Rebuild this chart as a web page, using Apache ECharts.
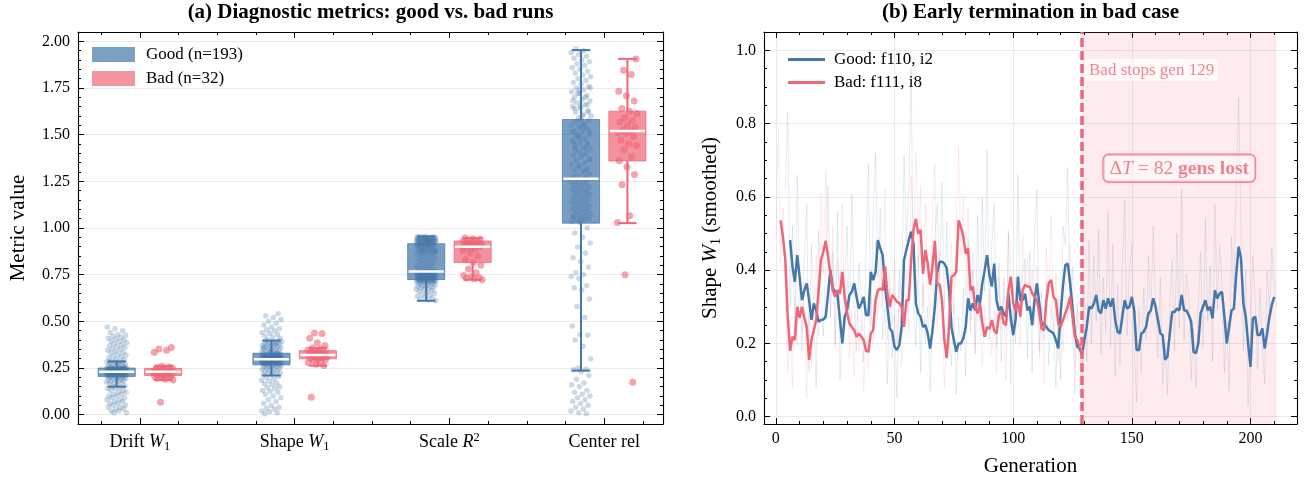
<!DOCTYPE html>
<html>
<head>
<meta charset="utf-8">
<script src="https://cdn.jsdelivr.net/npm/echarts@6.0.0/dist/echarts.min.js"></script>
<style>
  html, body { margin: 0; padding: 0; background: #ffffff; }
  #chart { width: 1309px; height: 482px; }
</style>
</head>
<body>
<div id="chart"></div>
<script>
// ---------------- Panel (a): diagnostic metrics ----------------
const categories = ['Drift {it|W}{sub|1}', 'Shape {it|W}{sub|1}', 'Scale {it|R}{sup|2}', 'Center rel'];

// Box statistics per metric: [lower whisker, Q1, median, Q3, upper whisker]
const goodStats = [
  [0.15, 0.205, 0.23, 0.25, 0.285],
  [0.21, 0.267, 0.297, 0.329, 0.397],
  [0.61, 0.724, 0.767, 0.916, 0.955],
  [0.236, 1.026, 1.264, 1.581, 1.953]
];
const badStats = [
  [0.186, 0.21, 0.23, 0.248, 0.26],
  [0.263, 0.299, 0.32, 0.343, 0.357],
  [0.723, 0.815, 0.90, 0.93, 0.946],
  [1.026, 1.359, 1.52, 1.626, 1.906]
];

// Per-run metric values, good runs
const goodDrift = [
  0.01,0.01,0.02,0.02,0.03,0.03,0.04,0.04,0.05,0.05,0.06,0.06,0.07,0.07,0.08,0.08,0.09,0.09,0.10,0.10,
  0.11,0.11,0.12,0.12,0.13,0.13,0.14,0.14,0.145,0.15,
  0.155,0.16,0.165,0.17,0.17,0.175,0.18,0.18,0.185,0.185,0.19,0.19,0.195,0.195,0.20,0.20,0.20,0.205,
  0.206,0.207,0.208,0.209,0.21,0.21,0.211,0.212,0.213,0.214,
  0.215,0.215,0.216,0.217,0.218,0.218,0.219,0.22,0.22,0.221,
  0.222,0.222,0.223,0.224,0.224,0.225,0.226,0.226,0.227,0.228,
  0.228,0.229,0.229,0.23,0.23,0.23,0.231,0.231,0.232,0.232,
  0.233,0.233,0.234,0.234,0.235,0.235,0.236,0.236,0.237,0.237,
  0.238,0.238,0.239,0.239,0.24,0.24,0.24,0.241,0.241,0.242,
  0.242,0.243,0.243,0.244,0.244,0.245,0.245,0.245,0.246,0.246,
  0.247,0.247,0.247,0.248,0.248,0.248,0.249,0.249,0.249,0.25,
  0.212,0.219,0.225,0.231,0.227,0.234,0.238,0.221,0.243,0.217,
  0.229,0.236,0.24,0.226,0.233,0.244,0.239,
  0.252,0.255,0.257,0.26,0.262,0.265,0.267,0.27,0.272,0.275,0.277,0.28,0.282,0.284,0.285,
  0.29,0.295,0.30,0.305,0.31,0.315,0.32,0.325,0.33,0.335,0.34,0.345,0.35,0.355,0.36,0.365,
  0.37,0.375,0.38,0.385,0.39,0.395,0.40,0.405,0.41,0.415,0.42,0.425,0.43,0.44,0.45,0.46,0.47
];
const goodShape = [
  0.005,0.01,0.015,0.02,0.03,0.035,0.04,0.05,0.06,0.07,0.08,0.09,0.10,0.11,0.12,0.125,0.13,0.14,
  0.145,0.15,0.16,0.165,0.17,0.18,0.185,0.19,0.20,0.205,
  0.212,0.215,0.218,0.222,0.225,0.228,0.232,0.235,0.238,0.242,0.245,0.248,0.25,0.253,0.255,0.258,
  0.26,0.262,0.264,0.266,
  0.268,0.269,0.27,0.271,0.272,0.273,0.274,0.275,0.276,0.277,
  0.278,0.279,0.28,0.281,0.282,0.283,0.284,0.285,0.286,0.287,
  0.288,0.289,0.29,0.291,0.292,0.293,0.294,0.295,0.296,0.297,
  0.297,0.298,0.299,0.30,0.30,0.301,0.302,0.303,0.304,0.305,
  0.306,0.307,0.308,0.309,0.31,0.311,0.312,0.313,0.314,0.315,
  0.316,0.317,0.318,0.319,0.32,0.321,0.322,0.323,0.324,0.325,
  0.326,0.327,0.328,0.329,0.29,0.295,0.30,0.305,0.31,0.285,
  0.28,0.275,0.315,0.32,0.293,0.298,0.302,0.308,0.287,0.291,
  0.296,0.299,0.303,0.306,0.311,0.283,0.279,0.318,0.274,0.294,
  0.297,0.301,0.289,0.304,0.312,0.296,0.30,
  0.332,0.335,0.337,0.34,0.342,0.345,0.347,0.35,0.352,0.355,0.357,0.36,0.362,0.365,0.367,0.37,
  0.372,0.375,0.377,0.38,0.382,0.385,0.387,0.39,0.392,0.395,0.396,0.338,0.358,0.378,
  0.40,0.41,0.415,0.42,0.43,0.435,0.44,0.45,0.455,0.46,0.47,0.48,0.49,0.50,0.51,0.52,0.53,0.54
];
const goodScale = [
  0.61,0.615,0.62,0.625,0.63,0.635,0.64,0.645,0.65,0.655,
  0.66,0.665,0.67,0.672,0.675,0.678,0.68,0.683,0.686,0.689,
  0.692,0.695,0.697,0.70,0.702,0.704,0.706,0.708,0.71,0.711,
  0.712,0.713,0.714,0.715,0.716,0.717,0.718,0.719,0.72,0.72,
  0.721,0.721,0.722,0.722,0.723,0.723,0.724,0.724,
  0.725,0.726,0.727,0.728,0.729,0.73,0.731,0.732,0.733,0.734,
  0.735,0.736,0.737,0.738,0.739,0.74,0.741,0.742,0.743,0.744,
  0.745,0.746,0.747,0.748,0.749,0.75,0.751,0.752,0.753,0.754,
  0.755,0.756,0.757,0.758,0.759,0.76,0.761,0.762,0.763,0.764,
  0.765,0.766,0.767,0.73,0.74,0.75,0.76,0.745,0.755,
  0.77,0.775,0.78,0.785,0.79,0.795,0.80,0.805,0.81,0.815,
  0.82,0.825,0.83,0.835,0.84,0.845,0.85,0.855,0.86,0.862,
  0.865,0.868,0.87,0.872,0.875,0.878,0.88,0.882,0.885,0.888,
  0.89,0.892,0.895,0.897,0.90,0.902,0.904,0.906,0.908,0.91,
  0.911,0.912,0.913,0.914,0.915,0.916,0.88,0.87,
  0.917,0.918,0.919,0.92,0.921,0.922,0.923,0.924,0.925,0.926,
  0.927,0.928,0.929,0.93,0.931,0.932,0.933,0.934,0.935,0.936,
  0.937,0.938,0.939,0.94,0.941,0.942,0.943,0.944,0.945,0.946,
  0.947,0.948,0.949,0.95,0.951,0.952,0.953,0.954,0.955,0.92,
  0.925,0.93,0.935,0.94,0.945,0.95,0.93,0.94
];
const goodCenter = [
  0.005,0.01,0.02,0.03,0.04,0.05,0.06,0.07,0.08,0.09,0.10,0.11,0.12,0.13,0.15,0.16,0.17,0.19,0.21,0.23,
  0.24,0.245,0.25,0.30,0.366,0.40,0.425,0.43,0.475,0.52,0.58,0.62,0.666,0.68,0.69,0.73,0.74,0.75,
  0.76,0.79,0.82,0.84,0.866,0.898,0.92,0.95,0.973,1.0,
  1.03,1.035,1.04,1.045,1.05,1.055,1.06,1.065,1.07,1.075,
  1.08,1.085,1.09,1.095,1.10,1.105,1.11,1.115,1.12,1.125,
  1.13,1.135,1.14,1.145,1.15,1.155,1.16,1.165,1.17,1.175,
  1.18,1.185,1.19,1.195,1.20,1.205,1.21,1.215,1.22,1.225,
  1.23,1.235,1.24,1.245,1.25,1.255,1.26,1.04,1.06,
  1.27,1.28,1.29,1.30,1.31,1.32,1.33,1.34,1.35,1.36,
  1.37,1.38,1.39,1.40,1.41,1.42,1.43,1.44,1.45,1.46,
  1.47,1.48,1.49,1.50,1.51,1.52,1.53,1.54,1.55,1.56,
  1.57,1.575,1.58,1.275,1.305,1.335,1.365,1.395,1.425,1.455,
  1.485,1.515,1.545,1.50,1.52,1.54,1.46,1.43,
  1.59,1.60,1.61,1.62,1.63,1.64,1.65,1.66,1.67,1.68,
  1.69,1.70,1.71,1.72,1.73,1.74,1.75,1.76,1.77,1.78,
  1.79,1.80,1.81,1.82,1.83,1.84,1.85,1.86,1.87,1.88,
  1.89,1.90,1.91,1.92,1.93,1.94,1.95,1.96,1.62,1.65,
  1.68,1.70,1.72,1.75,1.60,1.64,1.66,1.74
];

// Per-run metric values, bad runs
const badDrift = [
  0.066,0.186,0.19,0.195,0.20,0.203,0.205,0.208,0.21,0.213,0.216,0.219,0.222,0.225,0.228,0.23,
  0.232,0.235,0.238,0.241,0.244,0.246,0.248,0.25,0.253,0.256,0.26,0.334,0.345,0.352,0.36,0.22
];
const badShape = [
  0.093,0.263,0.27,0.278,0.285,0.29,0.295,0.299,0.302,0.305,0.308,0.31,0.313,0.316,0.318,0.32,
  0.322,0.325,0.328,0.33,0.333,0.336,0.34,0.343,0.347,0.352,0.357,0.37,0.385,0.41,0.435,0.438
];
const badScale = [
  0.723,0.728,0.732,0.735,0.74,0.745,0.76,0.78,0.80,0.815,0.83,0.85,0.865,0.88,0.89,0.895,
  0.90,0.902,0.905,0.908,0.91,0.913,0.916,0.92,0.923,0.926,0.93,0.933,0.936,0.94,0.943,0.946
];
const badCenter = [
  0.173,0.749,1.03,1.066,1.232,1.286,1.327,1.36,1.38,1.42,1.44,1.452,1.47,1.49,1.506,1.51,
  1.52,1.525,1.538,1.55,1.568,1.577,1.59,1.613,1.625,1.64,1.681,1.708,1.733,1.822,1.845,1.906
];

const goodValues = [goodDrift, goodShape, goodScale, goodCenter];
const badValues = [badDrift, badShape, badScale, badCenter];

// ---------------- Panel (b): early termination ----------------
const goodRunLabel = 'Good: f110, i2';
const badRunLabel = 'Bad: f111, i8';
const stopGen = 129;   // last generation of the bad run
const endGen = 211;    // last generation of the good run

const goodSmoothStart = 6;
const goodSmoothed = [
  0.482,0.409,0.368,0.441,0.382,0.318,0.345,0.364,0.318,0.264,0.309,0.29,0.259,0.264,0.265,0.273,
  0.336,0.40,0.35,0.341,0.332,0.264,0.20,0.273,0.29,0.332,0.341,0.364,0.327,0.295,0.309,0.327,
  0.277,0.277,0.395,0.373,0.395,0.482,0.459,0.441,0.355,0.30,0.241,0.232,0.191,0.182,0.195,0.245,
  0.427,0.455,0.482,0.505,0.473,0.309,0.282,0.273,0.245,0.25,0.227,0.186,0.236,0.30,0.395,0.423,
  0.423,0.418,0.405,0.345,0.245,0.209,0.177,0.20,0.20,0.214,0.245,0.323,0.29,0.309,0.29,0.332,
  0.309,0.364,0.40,0.441,0.386,0.355,0.418,0.318,0.29,0.30,0.282,0.273,0.336,0.268,0.223,0.264,
  0.382,0.318,0.318,0.336,0.29,0.30,0.25,0.318,0.364,0.309,0.25,0.255,0.245,0.236,0.232,0.227,
  0.209,0.186,0.282,0.359,0.414,0.418,0.364,0.30,0.227,0.191,0.186,0.168,0.209,0.245,0.30,0.295,
  0.309,0.332,0.29,0.282,0.318,0.295,0.323,0.30,0.323,0.264,0.232,0.227,0.273,0.318,0.295,0.30,
  0.327,0.29,0.182,0.182,0.227,0.232,0.245,0.282,0.29,0.323,0.30,0.264,0.227,0.223,0.155,0.164,
  0.227,0.286,0.286,0.295,0.29,0.332,0.29,0.29,0.277,0.259,0.177,0.173,0.20,0.282,0.30,0.318,
  0.29,0.30,0.268,0.345,0.323,0.336,0.341,0.273,0.20,0.245,0.29,0.295,0.39,0.464,0.432,0.309,
  0.273,0.20,0.136,0.268,0.273,0.223,0.223,0.241,0.186,0.227,0.273,0.305,0.327
];
const badSmoothStart = 2;
const badSmoothed = [
  0.536,0.49,0.427,0.27,0.18,0.218,0.209,0.30,0.27,0.30,0.27,0.245,0.155,0.21,0.236,0.264,
  0.345,0.427,0.45,0.48,0.436,0.39,0.345,0.327,0.345,0.336,0.395,0.327,0.282,0.255,0.245,0.236,
  0.218,0.227,0.218,0.209,0.18,0.177,0.227,0.236,0.318,0.345,0.35,0.345,0.41,0.336,0.30,0.332,
  0.323,0.314,0.31,0.30,0.245,0.318,0.318,0.427,0.51,0.54,0.50,0.51,0.39,0.455,0.418,0.36,
  0.41,0.48,0.364,0.36,0.318,0.21,0.16,0.245,0.382,0.386,0.395,0.536,0.518,0.49,0.445,0.46,
  0.345,0.355,0.30,0.282,0.31,0.255,0.218,0.245,0.24,0.264,0.236,0.227,0.277,0.29,0.255,0.25,
  0.345,0.382,0.31,0.29,0.314,0.273,0.345,0.36,0.355,0.355,0.336,0.327,0.318,0.282,0.24,0.236,
  0.318,0.364,0.373,0.327,0.318,0.255,0.245,0.264,0.282,0.30,0.327,0.273,0.218,0.209,0.19,0.18
];

// Unsmoothed per-generation values (drawn faintly behind the smoothed curves)
const goodRawStart = 4;
const goodRaw = [
  0.62,0.83,0.30,0.52,0.21,0.66,0.35,0.18,0.44,0.58,
  0.12,0.47,0.29,0.08,0.51,0.33,0.22,0.41,0.63,0.27,
  0.45,0.19,0.56,0.10,0.28,0.37,0.52,0.24,0.61,0.30,
  0.18,0.42,0.33,0.15,0.46,0.69,0.25,0.54,0.72,0.38,
  0.57,0.21,0.30,0.09,0.35,0.16,0.28,0.05,0.40,0.33,
  0.71,0.48,0.62,0.95,0.31,0.19,0.44,0.12,0.36,0.20,
  0.30,0.07,0.26,0.49,0.58,0.37,0.64,0.29,0.53,0.22,
  0.14,0.31,0.06,0.27,0.18,0.35,0.11,0.48,0.23,0.40,
  0.17,0.55,0.26,0.60,0.34,0.73,0.21,0.47,0.58,0.19,
  0.42,0.15,0.38,0.24,0.50,0.09,0.31,0.20,0.66,0.27,
  0.39,0.43,0.16,0.45,0.12,0.49,0.62,0.18,0.34,0.21,
  0.37,0.14,0.30,0.25,0.08,0.33,0.10,0.52,0.47,0.68,
  0.29,0.41,0.06,0.31,0.22,0.05,0.36,0.15,0.48,0.20,
  0.44,0.26,0.51,0.17,0.38,0.23,0.56,0.19,0.47,0.11,
  0.36,0.14,0.40,0.59,0.22,0.41,0.47,0.18,0.04,0.30,
  0.12,0.35,0.21,0.44,0.27,0.52,0.31,0.16,0.38,0.09,
  0.20,0.06,0.31,0.43,0.18,0.50,0.24,0.62,0.21,0.39,
  0.33,0.10,0.24,0.08,0.30,0.45,0.19,0.54,0.26,0.41,
  0.15,0.58,0.29,0.47,0.36,0.12,0.26,0.07,0.49,0.33,
  0.64,0.87,0.52,0.18,0.40,0.03,0.22,0.44,0.31,0.13,
  0.35,0.19,0.09,0.40,0.28,0.46,0.36,0.30
];
const badRawStart = 0;
const badRaw = [
  0.48,0.79,0.42,0.57,0.31,0.12,0.26,0.08,0.33,0.19,
  0.41,0.23,0.36,0.05,0.28,0.14,0.30,0.44,0.22,0.61,
  0.39,0.67,0.45,0.28,0.52,0.20,0.43,0.31,0.58,0.24,
  0.37,0.16,0.29,0.11,0.34,0.18,0.26,0.07,0.22,0.13,
  0.35,0.19,0.48,0.27,0.44,0.30,0.62,0.21,0.38,0.25,
  0.43,0.20,0.37,0.14,0.32,0.40,0.23,0.66,0.49,0.72,
  0.41,0.63,0.30,0.58,0.36,0.27,0.55,0.69,0.24,0.45,
  0.31,0.08,0.19,0.34,0.47,0.29,0.52,0.74,0.44,0.60,
  0.33,0.57,0.26,0.45,0.18,0.37,0.25,0.14,0.30,0.21,
  0.35,0.17,0.29,0.12,0.38,0.24,0.33,0.10,0.51,0.42,
  0.22,0.38,0.27,0.19,0.49,0.36,0.43,0.28,0.40,0.25,
  0.41,0.16,0.30,0.09,0.46,0.33,0.55,0.22,0.39,0.15,
  0.32,0.18,0.37,0.26,0.47,0.20,0.13,0.29,0.08,0.17
];

// ---------------- styling ----------------
const GOOD = '#4477AA';
const BAD = '#EE6677';
const GOOD_PATCH = '#7ca0c3';
const BAD_PATCH = '#f394a0';
const FONT = "'Liberation Serif', 'DejaVu Serif', 'Times New Roman', serif";
const GRID_LINE = '#e4e4e4';

const BOX_OFFSET = 0.15;   // horizontal shift of good/bad boxes from the category centre
const BOX_WIDTH = 0.24;
const SPREAD = 0.065;      // horizontal spread of the run dots

const goodName = 'Good (n=' + goodDrift.length + ')';
const badName = 'Bad (n=' + badDrift.length + ')';

function spreadAt(i) {
  const f = (i * 0.6180339887 + 0.37) % 1;
  return (f * 2 - 1) * SPREAD;
}
function dotData(groups, offset) {
  const out = [];
  groups.forEach((vals, c) => {
    vals.forEach((v, i) => out.push([c + offset + spreadAt(i + c * 11), v]));
  });
  return out;
}
function statData(stats) {
  return stats.map((s, c) => [c].concat(s));
}
function boxRender(offset, color) {
  return function (params, api) {
    const x = api.value(0) + offset;
    const q1 = api.coord([x, api.value(2)]);
    const q3 = api.coord([x, api.value(4)]);
    const w = api.size([BOX_WIDTH, 0])[0];
    return {
      type: 'rect',
      shape: { x: q3[0] - w / 2, y: q3[1], width: w, height: q1[1] - q3[1] },
      style: { fill: color, opacity: 0.72, stroke: color, lineWidth: 1 }
    };
  };
}
function whiskerRender(offset, color) {
  return function (params, api) {
    const x = api.value(0) + offset;
    const p = [1, 2, 3, 4, 5].map(d => api.coord([x, api.value(d)]));
    const w = api.size([BOX_WIDTH, 0])[0];
    const cx = p[0][0];
    const cap = w / 4;
    const seg = (x1, y1, x2, y2, stroke, lw) => ({
      type: 'line', shape: { x1, y1, x2, y2 }, style: { stroke, lineWidth: lw }
    });
    return {
      type: 'group',
      children: [
        seg(cx, p[0][1], cx, p[1][1], color, 2),
        seg(cx, p[3][1], cx, p[4][1], color, 2),
        seg(cx - cap, p[0][1], cx + cap, p[0][1], color, 2),
        seg(cx - cap, p[4][1], cx + cap, p[4][1], color, 2),
        seg(cx - w / 2 + 1, p[2][1], cx + w / 2 - 1, p[2][1], '#ffffff', 2.5)
      ]
    };
  };
}
function lineData(start, values) {
  return values.map((v, i) => [start + i, v]);
}

// ---------------- axes ----------------
function range(from, to, step, skipEvery) {
  const out = [];
  for (let k = from; k <= to; k++) {
    if (skipEvery && k % skipEvery === 0) continue;
    out.push(Math.round(k * step * 10000) / 10000);
  }
  return out;
}
const spine = { show: true, onZero: false, lineStyle: { color: '#000', width: 1.1 } };
function ticks(values, len) {
  return { show: true, inside: true, length: len, customValues: values, lineStyle: { color: '#000', width: 1 } };
}
function axis(o) {
  return Object.assign({
    type: 'value', scale: false,
    axisLine: { show: false, onZero: false },
    axisTick: { show: false },
    axisLabel: { show: false },
    splitLine: { show: false }
  }, o);
}
const labelBase = { show: true, color: '#000', fontFamily: FONT, fontSize: 16 };
const nameStyle = { fontFamily: FONT, fontSize: 21, color: '#000' };

const A_XMIN = -0.4, A_XMAX = 3.38, A_YMIN = -0.05, A_YMAX = 2.05;
const B_XMIN = -5, B_XMAX = 219.6, B_YMIN = -0.02, B_YMAX = 1.05;

const aXMajor = [0, 1, 2, 3];
const aXMinor = range(-1, 13, 0.25, 4);
const aYMajor = range(0, 8, 0.25);
const aYMinor = range(0, 40, 0.05, 5);
const bXMajor = range(0, 4, 50);
const bXMinor = range(0, 21, 10, 5);
const bYMajor = range(0, 5, 0.2);
const bYMinor = range(0, 20, 0.05, 4);

const xAxes = [
  axis({ gridIndex: 0, position: 'bottom', min: A_XMIN, max: A_XMAX, axisLine: spine,
    axisTick: ticks(aXMajor, 6),
    axisLabel: Object.assign({}, labelBase, {
      customValues: aXMajor, fontSize: 18, margin: 7, lineHeight: 22,
      formatter: v => categories[Math.round(v)],
      rich: {
        it: { fontFamily: FONT, fontSize: 18, fontStyle: 'italic', lineHeight: 22, color: '#000' },
        sub: { fontFamily: FONT, fontSize: 12.5, verticalAlign: 'bottom', color: '#000' },
        sup: { fontFamily: FONT, fontSize: 12.5, verticalAlign: 'top', color: '#000' }
      }
    }) }),
  axis({ gridIndex: 0, position: 'bottom', min: A_XMIN, max: A_XMAX, axisTick: ticks(aXMinor, 3) }),
  axis({ gridIndex: 0, position: 'top', min: A_XMIN, max: A_XMAX, axisLine: spine, axisTick: ticks(aXMajor, 6) }),
  axis({ gridIndex: 0, position: 'top', min: A_XMIN, max: A_XMAX, axisTick: ticks(aXMinor, 3) }),

  axis({ gridIndex: 1, position: 'bottom', min: B_XMIN, max: B_XMAX, axisLine: spine,
    axisTick: ticks(bXMajor, 6),
    axisLabel: Object.assign({}, labelBase, { customValues: bXMajor, margin: 7, formatter: v => String(v) }),
    splitLine: { show: true, lineStyle: { color: GRID_LINE, width: 0.8 } },
    name: 'Generation', nameLocation: 'middle', nameGap: 32, nameTextStyle: nameStyle }),
  axis({ gridIndex: 1, position: 'bottom', min: B_XMIN, max: B_XMAX, axisTick: ticks(bXMinor, 3) }),
  axis({ gridIndex: 1, position: 'top', min: B_XMIN, max: B_XMAX, axisLine: spine, axisTick: ticks(bXMajor, 6) }),
  axis({ gridIndex: 1, position: 'top', min: B_XMIN, max: B_XMAX, axisTick: ticks(bXMinor, 3) })
];

const yAxes = [
  axis({ gridIndex: 0, position: 'left', min: A_YMIN, max: A_YMAX, axisLine: spine,
    axisTick: ticks(aYMajor, 6),
    axisLabel: Object.assign({}, labelBase, { customValues: aYMajor, margin: 8, formatter: v => v.toFixed(2) }),
    splitLine: { show: true, lineStyle: { color: GRID_LINE, width: 0.8 } },
    name: 'Metric value', nameLocation: 'middle', nameGap: 49, nameTextStyle: nameStyle }),
  axis({ gridIndex: 0, position: 'left', min: A_YMIN, max: A_YMAX, axisTick: ticks(aYMinor, 3) }),
  axis({ gridIndex: 0, position: 'right', min: A_YMIN, max: A_YMAX, axisLine: spine, axisTick: ticks(aYMajor, 6) }),
  axis({ gridIndex: 0, position: 'right', min: A_YMIN, max: A_YMAX, axisTick: ticks(aYMinor, 3) }),

  axis({ gridIndex: 1, position: 'left', min: B_YMIN, max: B_YMAX, axisLine: spine,
    axisTick: ticks(bYMajor, 6),
    axisLabel: Object.assign({}, labelBase, { customValues: bYMajor, margin: 8, formatter: v => v.toFixed(1) }),
    splitLine: { show: true, lineStyle: { color: GRID_LINE, width: 0.8 } },
    name: '{n|Shape }{it|W}{sub|1}{n| (smoothed)}', nameLocation: 'middle', nameGap: 41,
    nameTextStyle: Object.assign({}, nameStyle, {
      rich: {
        n: { fontFamily: FONT, fontSize: 21, lineHeight: 26, color: '#000' },
        it: { fontFamily: FONT, fontSize: 21, fontStyle: 'italic', lineHeight: 26, color: '#000' },
        sub: { fontFamily: FONT, fontSize: 14, verticalAlign: 'bottom', color: '#000' }
      }
    }) }),
  axis({ gridIndex: 1, position: 'left', min: B_YMIN, max: B_YMAX, axisTick: ticks(bYMinor, 3) }),
  axis({ gridIndex: 1, position: 'right', min: B_YMIN, max: B_YMAX, axisLine: spine, axisTick: ticks(bYMajor, 6) }),
  axis({ gridIndex: 1, position: 'right', min: B_YMIN, max: B_YMAX, axisTick: ticks(bYMinor, 3) })
];

// ---------------- series ----------------
const series = [
  // panel (a)
  { name: goodName, type: 'custom', xAxisIndex: 0, yAxisIndex: 0, z: 2, silent: true,
    itemStyle: { color: GOOD_PATCH }, data: statData(goodStats), renderItem: boxRender(-BOX_OFFSET, GOOD) },
  { name: badName, type: 'custom', xAxisIndex: 0, yAxisIndex: 0, z: 2, silent: true,
    itemStyle: { color: BAD_PATCH }, data: statData(badStats), renderItem: boxRender(BOX_OFFSET, BAD) },
  { name: 'good runs', type: 'scatter', xAxisIndex: 0, yAxisIndex: 0, z: 3, silent: true,
    symbolSize: 5.5, itemStyle: { color: GOOD, opacity: 0.28 }, data: dotData(goodValues, -BOX_OFFSET) },
  { name: 'bad runs', type: 'scatter', xAxisIndex: 0, yAxisIndex: 0, z: 3, silent: true,
    symbolSize: 7, itemStyle: { color: BAD, opacity: 0.6 }, data: dotData(badValues, BOX_OFFSET) },
  { name: 'good whiskers', type: 'custom', xAxisIndex: 0, yAxisIndex: 0, z: 4, silent: true,
    data: statData(goodStats), renderItem: whiskerRender(-BOX_OFFSET, GOOD) },
  { name: 'bad whiskers', type: 'custom', xAxisIndex: 0, yAxisIndex: 0, z: 4, silent: true,
    data: statData(badStats), renderItem: whiskerRender(BOX_OFFSET, BAD) },

  // panel (b)
  { name: 'good raw', type: 'line', xAxisIndex: 4, yAxisIndex: 4, z: 2, silent: true,
    showSymbol: false, symbol: 'none', data: lineData(goodRawStart, goodRaw),
    lineStyle: { color: GOOD, width: 0.8, opacity: 0.18 },
    markArea: { silent: true, itemStyle: { color: 'rgba(238,102,119,0.13)' },
      data: [[{ xAxis: stopGen }, { xAxis: endGen }]] } },
  { name: 'bad raw', type: 'line', xAxisIndex: 4, yAxisIndex: 4, z: 2, silent: true,
    showSymbol: false, symbol: 'none', data: lineData(badRawStart, badRaw),
    lineStyle: { color: BAD, width: 0.8, opacity: 0.16 } },
  { name: goodRunLabel, type: 'line', xAxisIndex: 4, yAxisIndex: 4, z: 3, silent: true,
    showSymbol: false, symbol: 'none', data: lineData(goodSmoothStart, goodSmoothed),
    itemStyle: { color: GOOD }, lineStyle: { color: GOOD, width: 2.5 } },
  { name: badRunLabel, type: 'line', xAxisIndex: 4, yAxisIndex: 4, z: 4, silent: true,
    showSymbol: false, symbol: 'none', data: lineData(badSmoothStart, badSmoothed),
    itemStyle: { color: BAD }, lineStyle: { color: BAD, width: 2.5 } },
  { name: 'stop note', type: 'scatter', xAxisIndex: 4, yAxisIndex: 4, z: 6, silent: true,
    symbolSize: 0, data: [[stopGen, 0.946]],
    label: { show: true, position: 'right', distance: 3, formatter: 'Bad stops gen ' + stopGen,
      color: BAD, fontFamily: FONT, fontSize: 17, backgroundColor: 'rgba(255,255,255,0.85)',
      padding: [3, 4, 2, 4] },
    markLine: { silent: true, symbol: ['none', 'none'], label: { show: false },
      lineStyle: { color: BAD, width: 3.5, type: [9, 4], opacity: 1 },
      data: [{ xAxis: stopGen }] } },
  { name: 'lost note', type: 'scatter', xAxisIndex: 4, yAxisIndex: 4, z: 6, silent: true,
    symbolSize: 0, data: [[(stopGen + endGen) / 2, 0.678]],
    label: { show: true, position: 'inside',
      formatter: '{r|\u0394}{t|T}{r| = ' + (endGen - stopGen) + ' }{b|gens lost}',
      backgroundColor: 'rgba(255,255,255,0.6)', borderColor: BAD, borderWidth: 1.2, borderRadius: 5,
      padding: [4, 6, 3, 6],
      rich: {
        r: { fontFamily: FONT, fontSize: 19.5, color: BAD },
        t: { fontFamily: FONT, fontSize: 19.5, fontStyle: 'italic', color: BAD },
        b: { fontFamily: FONT, fontSize: 19.5, fontWeight: 'bold', color: BAD }
      } } }
];

const chart = echarts.init(document.getElementById('chart'), null, { renderer: 'canvas' });
chart.setOption({
  animation: false,
  backgroundColor: '#ffffff',
  textStyle: { fontFamily: FONT },
  grid: [
    { left: 78, top: 32, width: 585, height: 392 },
    { left: 764, top: 32, width: 533, height: 392 }
  ],
  graphic: [
    { type: 'text', x: 78 + 585 / 2, y: 13, silent: true,
      style: { text: '(a) Diagnostic metrics: good vs. bad runs', fill: '#000',
        font: 'bold 21px ' + FONT, textAlign: 'center', textVerticalAlign: 'middle' } },
    { type: 'text', x: 764 + 533 / 2, y: 13, silent: true,
      style: { text: '(b) Early termination in bad case', fill: '#000',
        font: 'bold 21px ' + FONT, textAlign: 'center', textVerticalAlign: 'middle' } }
  ],
  legend: [
    { orient: 'vertical', left: 92, top: 46, padding: 0, icon: 'rect', itemWidth: 43, itemHeight: 15, itemGap: 7,
      selectedMode: false,
      textStyle: { fontFamily: FONT, fontSize: 17, color: '#000', padding: [0, 0, 0, 6] },
      data: [{ name: goodName, itemStyle: { color: GOOD_PATCH } }, { name: badName, itemStyle: { color: BAD_PATCH } }] },
    { orient: 'vertical', left: 788, top: 51, padding: 0, icon: 'rect', itemWidth: 37, itemHeight: 3, itemGap: 6,
      selectedMode: false,
      textStyle: { fontFamily: FONT, fontSize: 17, color: '#000', padding: [0, 0, 0, 4] },
      data: [{ name: goodRunLabel, itemStyle: { color: GOOD } }, { name: badRunLabel, itemStyle: { color: BAD } }] }
  ],
  xAxis: xAxes,
  yAxis: yAxes,
  series: series
});
</script>
</body>
</html>
